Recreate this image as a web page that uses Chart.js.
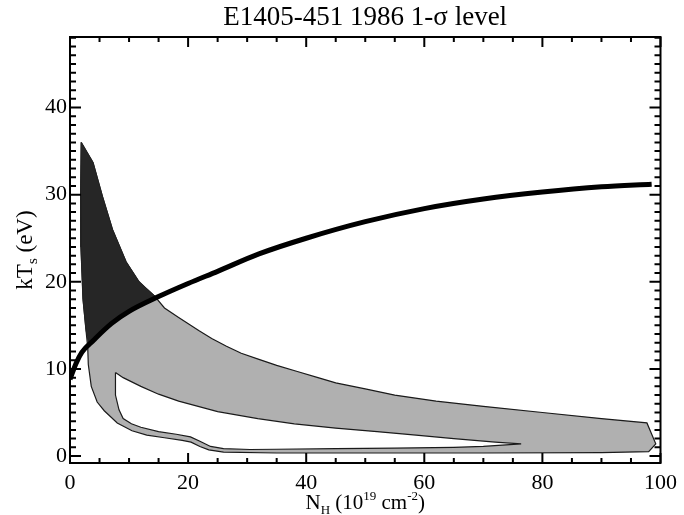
<!DOCTYPE html>
<html>
<head>
<meta charset="utf-8">
<title>E1405-451 1986</title>
<script src="https://cdn.jsdelivr.net/npm/chart.js@4.4.0/dist/chart.umd.min.js"></script>
<style>
  body { margin: 0; background: #fff; }
  #wrap { width: 684px; height: 515px; }
</style>
</head>
<body>
<div id="wrap"><canvas id="plot" width="684" height="515"></canvas></div>
<script>
// tick labels
const xTicks = [0, 20, 40, 60, 80, 100];
const yTicks = [0, 10, 20, 30, 40];

// thick model curve kT vs NH
const curveX = [0, 1, 2, 4, 7, 10, 15, 20, 25, 32, 40, 50, 60, 70, 80, 90, 98.5];
const curveY = [8.8, 10.6, 11.9, 13.3, 15.2, 16.6, 18.3, 19.8, 21.2, 23.2, 25.0, 26.9, 28.4, 29.5, 30.3, 30.9, 31.2];

// outer edge of the 1-sigma region (light)
const bandX = [1.9, 1.8, 1.85, 2.2, 2.7, 3.0, 3.1, 3.6, 4.6, 5.8, 8.0, 10.5, 13, 16, 19, 20.5, 22, 23.5, 26, 35, 50, 70, 90, 98, 99.2, 97.7,
  90, 80, 70, 62, 55, 50, 45, 42, 38.5, 35, 32, 29, 26.5, 24, 21.8, 18.4, 16, 14.5, 11.7, 9.5, 7.2, 5.5, 3.9, 1.9];
const bandY = [36, 30, 24, 18, 14.5, 12.5, 10.5, 8, 6.2, 5.2, 3.8, 2.9, 2.4, 2.1, 1.8, 1.6, 1.1, 0.7, 0.45, 0.35, 0.35, 0.35, 0.4, 0.5, 1.4, 3.8,
  4.3, 5.0, 5.7, 6.3, 7.0, 7.7, 8.4, 9.0, 9.7, 10.4, 11.1, 11.8, 12.6, 13.5, 14.4, 15.9, 17.0, 18.2, 20, 22.3, 26, 29.8, 33.7, 36];

// part of the region above the curve (dark)
const darkX = [1.9, 1.8, 1.85, 2.2, 2.7, 3.2, 5, 7, 10, 12, 14.5, 11.7, 9.5, 7.2, 5.5, 3.9, 1.9];
const darkY = [36, 30, 24, 18, 14.5, 12.7, 14.2, 15.2, 16.6, 17.4, 18.3, 20, 22.3, 26, 29.8, 33.7, 36];

// empty hole inside the region
const holeX = [7.7, 9, 12, 15, 18.4, 25, 31.8, 38, 45, 52, 58.6, 65, 72, 76.4, 70, 65, 55, 45, 35, 30.5, 26, 23.8, 22, 20.4, 18, 15, 12, 10.4, 9, 8.3, 7.7, 7.7, 7.7];
const holeY = [9.6, 9.0, 8.0, 7.1, 6.3, 5.1, 4.3, 3.7, 3.2, 2.8, 2.4, 2.0, 1.6, 1.4, 1.1, 1.0, 0.9, 0.85, 0.78, 0.75, 0.85, 1.1, 1.7, 2.2, 2.5, 2.8, 3.3, 3.7, 4.3, 5.3, 7.0, 8.9, 9.6];

function pts(xs, ys) {
  return xs.map((v, i) => ({ x: v, y: ys[i] }));
}

const serif = '"Liberation Serif", "Times New Roman", serif';

// frame with inward ticks, title and axis titles
const frameTicks = {
  id: 'frameTicks',
  afterDraw(chart) {
    const { ctx, chartArea: a, scales: { x, y } } = chart;
    ctx.save();
    ctx.strokeStyle = '#000';
    ctx.lineWidth = 2;
    ctx.strokeRect(a.left, a.top, a.right - a.left, a.bottom - a.top);
    ctx.beginPath();
    for (let v = 0; v <= 100; v += 5) {
      const px = x.getPixelForValue(v);
      const len = v % 20 === 0 ? 10 : 5;
      ctx.moveTo(px, a.bottom); ctx.lineTo(px, a.bottom - len);
      ctx.moveTo(px, a.top); ctx.lineTo(px, a.top + len);
    }
    for (let v = 0; v <= 48; v++) {
      const py = y.getPixelForValue(v);
      const len = v % 10 === 0 ? 11 : 6;
      ctx.moveTo(a.left, py); ctx.lineTo(a.left + len, py);
      ctx.moveTo(a.right, py); ctx.lineTo(a.right - len, py);
    }
    ctx.stroke();

    ctx.fillStyle = '#000';
    ctx.textBaseline = 'alphabetic';
    // title
    ctx.font = '27px ' + serif;
    ctx.textAlign = 'center';
    ctx.fillText('E1405-451 1986 1-\u03c3 level', (a.left + a.right) / 2, 25);

    // x title with sub/superscripts
    const parts = [
      ['N', 21, 0], ['H', 13, 5], [' (10', 21, 0], ['19', 13, -9], [' cm', 21, 0], ['-2', 13, -9], [')', 21, 0]
    ];
    ctx.textAlign = 'left';
    let w = 0;
    parts.forEach(p => { ctx.font = p[1] + 'px ' + serif; w += ctx.measureText(p[0]).width; });
    let cx = (a.left + a.right) / 2 - w / 2;
    parts.forEach(p => {
      ctx.font = p[1] + 'px ' + serif;
      ctx.fillText(p[0], cx, 509 + p[2]);
      cx += ctx.measureText(p[0]).width;
    });

    // y title
    const yparts = [['kT', 23, 0], ['s', 15, 5], [' (eV)', 23, 0]];
    let yw = 0;
    yparts.forEach(p => { ctx.font = p[1] + 'px ' + serif; yw += ctx.measureText(p[0]).width; });
    ctx.translate(32, (a.top + a.bottom) / 2);
    ctx.rotate(-Math.PI / 2);
    let cy = -yw / 2;
    yparts.forEach(p => {
      ctx.font = p[1] + 'px ' + serif;
      ctx.fillText(p[0], cy, p[2]);
      cy += ctx.measureText(p[0]).width;
    });
    ctx.restore();
  }
};

new Chart(document.getElementById('plot'), {
  type: 'scatter',
  data: {
    datasets: [
      {
        label: 'model',
        data: pts(curveX, curveY),
        showLine: true,
        borderColor: '#000',
        borderWidth: 5,
        pointRadius: 0,
        cubicInterpolationMode: 'monotone',
        fill: false,
        order: 0
      },
      {
        label: 'hole',
        data: pts(holeX, holeY),
        showLine: true,
        borderColor: '#1a1a1a',
        borderWidth: 1.2,
        backgroundColor: '#ffffff',
        pointRadius: 0,
        tension: 0,
        fill: 'shape',
        order: 1
      },
      {
        label: 'dark',
        data: pts(darkX, darkY),
        showLine: true,
        borderColor: '#222',
        borderWidth: 1,
        backgroundColor: '#262626',
        pointRadius: 0,
        tension: 0,
        fill: 'shape',
        order: 2
      },
      {
        label: 'band',
        data: pts(bandX, bandY),
        showLine: true,
        borderColor: '#1a1a1a',
        borderWidth: 1.2,
        backgroundColor: '#b0b0b0',
        pointRadius: 0,
        tension: 0,
        fill: 'shape',
        order: 3
      }
    ]
  },
  options: {
    responsive: false,
    animation: false,
    devicePixelRatio: 1,
    layout: { padding: { top: 37, right: 17, left: 0, bottom: 0 } },
    plugins: {
      legend: { display: false },
      tooltip: { enabled: false },
      title: { display: false }
    },
    scales: {
      x: {
        type: 'linear',
        min: 0,
        max: 100,
        grid: { display: false, drawTicks: false },
        border: { display: false },
        afterBuildTicks: s => { s.ticks = xTicks.map(v => ({ value: v })); },
        afterFit: s => { s.height = 52; },
        ticks: { color: '#000', padding: 7, maxRotation: 0, font: { family: serif, size: 22 } }
      },
      y: {
        type: 'linear',
        min: -0.8,
        max: 48.1,
        grid: { display: false, drawTicks: false },
        border: { display: false },
        afterBuildTicks: s => { s.ticks = yTicks.map(v => ({ value: v })); },
        afterFit: s => { s.width = 70; },
        ticks: { color: '#000', padding: 3, font: { family: serif, size: 22 } }
      }
    }
  },
  plugins: [frameTicks]
});
</script>
</body>
</html>
